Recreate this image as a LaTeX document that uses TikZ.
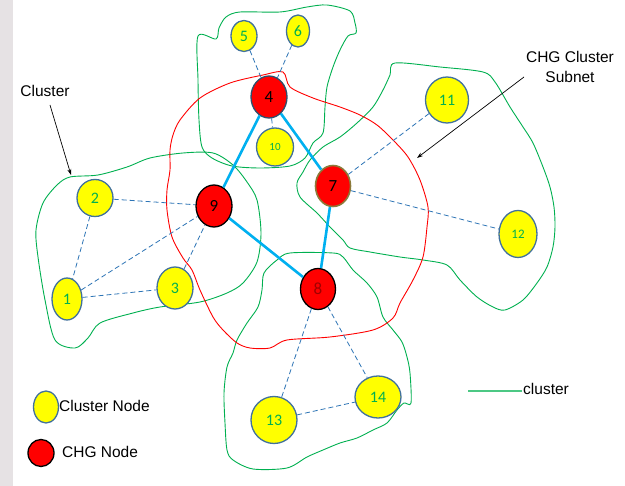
\documentclass[tikz,border=0pt]{standalone}
\usepackage{fontspec}
\setmainfont{Liberation Sans}
\newfontfamily\calibri{Carlito}
\usetikzlibrary{shapes.geometric,arrows.meta}
\definecolor{clustergreen}{HTML}{00B050}
\definecolor{subnetred}{HTML}{FF0000}
\definecolor{nodeborder}{HTML}{41719C}
\definecolor{nodetextgreen}{HTML}{00B050}
\definecolor{dashblue}{HTML}{2E75B6}
\definecolor{linkcyan}{HTML}{00B0F0}
\definecolor{chgfill}{HTML}{FF0000}
\definecolor{cnfill}{HTML}{FFFF00}
\definecolor{brownborder}{HTML}{8C7A3A}
\definecolor{darkredtext}{HTML}{A00000}
\definecolor{leftstrip}{HTML}{E6E2E4}
\tikzset{
  cnode/.style={ellipse, draw=nodeborder, line width=1.3pt, fill=cnfill, text=nodetextgreen,
    inner sep=0pt, font=\calibri\fontsize{16}{16}\selectfont},
  hnode/.style={ellipse, draw=nodeborder, line width=1.3pt, fill=chgfill, text=black,
    inner sep=0pt, font=\calibri\fontsize{17}{17}\selectfont},
  dashedge/.style={draw=dashblue, line width=0.8pt, dash pattern=on 5pt off 3pt},
  linkedge/.style={draw=linkcyan, line width=2.6pt},
  clusterline/.style={draw=clustergreen, line width=0.9pt},
  subnetline/.style={draw=subnetred, line width=0.9pt},
  lbl/.style={inner sep=0pt, font=\fontsize{15.5}{20}\selectfont, text=black},
  callout/.style={draw=black, line width=0.7pt, -{Stealth[length=6pt,width=4pt]}}
}
\begin{document}
\begin{tikzpicture}[x=1pt,y=-1pt]
\useasboundingbox (0,0) rectangle (625,486);
\fill[white] (0,0) rectangle (625,486);
\fill[leftstrip] (0,0) rectangle (13,486);

% cluster outlines
\draw[clusterline] plot[smooth cycle, tension=0.5] coordinates {
 (198,36) (216,39) (219,28) (226,17) (240,12) (280,12) (307,7) (327,5) (350,11) (355,23) (356,33)
 (348,36) (340,50) (333,67) (327,87) (325,107) (323,133) (313,143) (305,158) (290,166) (260,168)
 (232,166) (212,158) (202,147) (199,120) (198,80)};
\draw[clusterline] plot[smooth cycle, tension=0.5] coordinates {
 (70,177) (98,175) (127,167) (150,158) (183,153) (213,153) (233,165) (247,182) (257,200) (261,233)
 (257,262) (243,283) (227,293) (200,302) (160,307) (133,313) (100,323) (88,338) (75,348) (55,340)
 (45,300) (38,257) (36,230) (43,203) (57,185)};
\draw[clusterline] plot[smooth cycle, tension=0.5] coordinates {
 (395,63) (440,67) (483,72) (495,82) (510,107) (523,127) (533,143) (543,167) (550,187) (554,207)
 (555,227) (553,247) (547,267) (537,283) (523,300) (505,310) (493,307) (477,297) (460,280) (447,265)
 (423,260) (400,257) (370,252) (350,248) (343,240) (330,227) (317,213) (300,197) (297,183) (303,172)
 (310,160) (323,147) (340,137) (357,123) (373,107) (383,90) (390,75)};
\draw[clusterline] plot[smooth cycle, tension=0.5] coordinates {
 (290,253) (333,253) (343,257) (353,270) (367,283) (377,297) (383,317) (393,330) (402,342) (407,357)
 (410,373) (411,403) (404,403) (397,410) (387,423) (373,430) (357,438) (340,443) (323,450) (307,457)
 (287,468) (253,469) (233,460) (227,450) (225,423) (224,393) (227,367) (233,353) (237,340) (247,323)
 (258,307) (262,290) (264,273) (277,260)};
% subnet outline
\draw[subnetline] plot[smooth cycle, tension=0.5] coordinates {
 (180,120) (200,98) (230,83) (263,75) (283,72) (290,87) (313,98) (340,107) (360,115) (377,125)
 (393,140) (408,157) (420,180) (428,207) (427,227) (423,257) (413,280) (400,303) (393,318) (373,330)
 (330,337) (287,340) (270,348) (250,348) (237,343) (223,330) (213,317) (200,290) (192,270) (183,258)
 (172,237) (167,210) (167,190) (170,170) (170,150) (173,135)};

% nodes
\node[cnode, minimum width=26, minimum height=31] (n5) at (244,36) {5};
\node[cnode, minimum width=23, minimum height=32] (n6) at (298,31) {6};
\node[hnode, minimum width=36, minimum height=42, draw=nodeborder!70!black] (n4) at (269,97) {4};
\node[cnode, minimum width=37, minimum height=38, font=\calibri\fontsize{11}{11}\selectfont] (n10) at (275,147) {10};
\node[hnode, minimum width=36, minimum height=42, draw=black] (n9) at (214,206) {9};
\node[cnode, minimum width=36, minimum height=37] (n2) at (95,198) {2};
\node[cnode, minimum width=30, minimum height=42] (n1) at (67,299) {1};
\node[cnode, minimum width=36, minimum height=42] (n3) at (175,288) {3};
\node[hnode, minimum width=35, minimum height=41, draw=brownborder, line width=1.6pt] (n7) at (333,186) {7};
\node[cnode, minimum width=43, minimum height=46] (n11) at (447,100) {11};
\node[cnode, minimum width=38, minimum height=47, font=\calibri\fontsize{13}{13}\selectfont] (n12) at (518,234) {12};
\node[hnode, minimum width=35, minimum height=41, draw=black, text=darkredtext] (n8) at (318,289) {8};
\node[cnode, minimum width=46, minimum height=47] (n13) at (274,420) {13};
\node[cnode, minimum width=46, minimum height=42] (n14) at (378,397) {14};

% links
\draw[linkedge] (n4) -- (n9);
\draw[linkedge] (n4) -- (n7);
\draw[linkedge] (n9) -- (n8);
\draw[linkedge] (n7) -- (n8);

\draw[dashedge] (n5) -- (n4);
\draw[dashedge] (n6) -- (n4);
\draw[dashedge] (n4) -- (n10);
\draw[dashedge] (n2) -- (n9);
\draw[dashedge] (n2) -- (n1);
\draw[dashedge] (n1) -- (n9);
\draw[dashedge] (n1) -- (n3);
\draw[dashedge] (n3) -- (n9);
\draw[dashedge] (n7) -- (n11);
\draw[dashedge] (n7) -- (n12);
\draw[dashedge] (n8) -- (n13);
\draw[dashedge] (n8) -- (n14);
\draw[dashedge] (n13) -- (n14);

% labels with callouts
\node[lbl] (lblcluster) at (45,91) {Cluster};
\coordinate (clusterstart) at (50,105);
\coordinate (clusterend) at (71,175);
\draw[callout] (clusterstart) -- (clusterend);

\node[lbl, align=center] (lblsubnet) at (570,67) {CHG Cluster\\Subnet};
\coordinate (subnetstart) at (524,77);
\coordinate (subnetend) at (417,158);
\draw[callout] (subnetstart) -- (subnetend);

% legend
\node[cnode, minimum width=25, minimum height=32] (legc) at (46,407) {};
\node[lbl, anchor=west] (legctext) at (59,406) {Cluster Node};
\node[hnode, minimum width=26, minimum height=27, draw=black] (legh) at (41,453) {};
\node[lbl, anchor=west] (leghtext) at (62,452) {CHG Node};
\coordinate (legl1) at (468,391);
\coordinate (legl2) at (522,391);
\draw[clusterline, draw=clustergreen!70!white, line width=1.1pt] (legl1) -- (legl2);
\node[lbl, anchor=west] (legltext) at (523,389) {cluster};
\end{tikzpicture}
\end{document}
